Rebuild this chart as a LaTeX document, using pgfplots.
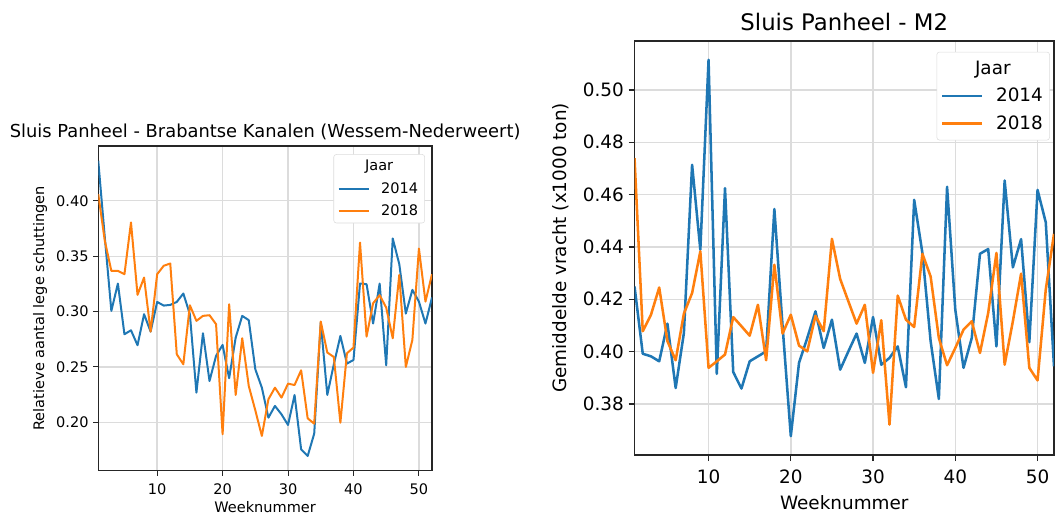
\documentclass[border=0pt]{standalone}
\usepackage{fontspec}
\setmainfont{DejaVu Sans}
\usepackage{pgfplots}
\pgfplotsset{compat=1.18}
\definecolor{tblue}{HTML}{1F77B4}
\definecolor{torange}{HTML}{FF7F0E}
\definecolor{gridc}{HTML}{DCDCDC}
\definecolor{spine}{HTML}{262626}

\pgfplotstableread{
w b o
1 0.4361 0.4060
2 0.3669 0.3639
3 0.3006 0.3367
4 0.3253 0.3367
5 0.2795 0.3337
6 0.2831 0.3804
7 0.2696 0.3151
8 0.2976 0.3307
9 0.2819 0.2819
10 0.3087 0.3337
11 0.3054 0.3413
12 0.3060 0.3434
13 0.3087 0.2614
14 0.3163 0.2524
15 0.2976 0.3057
16 0.2268 0.2916
17 0.2804 0.2961
18 0.2373 0.2967
19 0.2600 0.2886
20 0.2699 0.1892
21 0.2398 0.3066
22 0.2765 0.2247
23 0.2961 0.2759
24 0.2922 0.2328
25 0.2479 0.2108
26 0.2313 0.1877
27 0.2042 0.2208
28 0.2148 0.2313
29 0.2072 0.2223
30 0.1976 0.2349
31 0.2247 0.2337
32 0.1756 0.2470
33 0.1696 0.2036
34 0.1898 0.1988
35 0.2900 0.2910
36 0.2247 0.2630
37 0.2524 0.2590
38 0.2780 0.1997
39 0.2530 0.2623
40 0.2563 0.2675
41 0.3253 0.3623
42 0.3247 0.2774
43 0.2892 0.3075
44 0.3253 0.3148
45 0.2515 0.3036
46 0.3660 0.2759
47 0.3428 0.3331
48 0.2982 0.2500
49 0.3196 0.2744
50 0.3090 0.3569
51 0.2892 0.3090
52 0.3127 0.3337
}\lefttable

\pgfplotstableread{
w b o
1 0.4249 0.4739
2 0.3992 0.4078
3 0.3982 0.4141
4 0.3963 0.4245
5 0.4107 0.4040
6 0.3861 0.3967
7 0.4071 0.4145
8 0.4714 0.4224
9 0.4389 0.4383
10 0.5115 0.3938
11 0.3915 0.3963
12 0.4625 0.3989
13 0.3922 0.4132
14 0.3859 0.4097
15 0.3963 0.4061
16 0.3982 0.4179
17 0.4001 0.3967
18 0.4545 0.4332
19 0.4097 0.4069
20 0.3677 0.4141
21 0.3957 0.4023
22 0.4052 0.4001
23 0.4154 0.4137
24 0.4014 0.4078
25 0.4122 0.4431
26 0.3931 0.4278
27 0.4001 0.4192
28 0.4069 0.4107
29 0.3957 0.4179
30 0.4132 0.3919
31 0.3950 0.4120
32 0.3976 0.3721
33 0.4020 0.4214
34 0.3864 0.4122
35 0.4580 0.4094
36 0.4377 0.4374
37 0.4040 0.4287
38 0.3819 0.4052
39 0.4630 0.3948
40 0.4160 0.4014
41 0.3938 0.4084
42 0.4052 0.4116
43 0.4374 0.3995
44 0.4392 0.4148
45 0.4020 0.4377
46 0.4654 0.3950
47 0.4322 0.4116
48 0.4430 0.4298
49 0.4036 0.3938
50 0.4618 0.3890
51 0.4494 0.4237
52 0.3944 0.4450
}\righttable

\begin{document}
\begin{tikzpicture}
\path[use as bounding box] (0,0) rectangle (792.75pt,389.25pt);
% ---------------- left ----------------
\begin{axis}[
  at={(73.7pt,36.2pt)}, anchor=south west,
  scale only axis, width=250.3pt, height=243.5pt,
  xmin=1, xmax=52, ymin=0.1563, ymax=0.4494,
  xtick={10,20,30,40,50}, ytick={0.20,0.25,0.30,0.35,0.40},
  /pgf/number format/assume math mode=true,
  yticklabel style={/pgf/number format/fixed, /pgf/number format/fixed zerofill, /pgf/number format/precision=2},
  xticklabel style={yshift=-2.25pt},
  tick pos=left, tick align=outside, major tick length=3.75pt,
  tick style={spine, line width=0.75pt},
  axis line style={spine, line width=1pt},
  grid=major, grid style={gridc, line width=1pt},
  ticklabel style={font=\fontsize{10.9pt}{13pt}\selectfont},
  label style={font=\fontsize{10.9pt}{13pt}\selectfont},
  xlabel={Weeknummer},
  ylabel={Relatieve aantal lege schuttingen},
  xlabel style={at={(axis description cs:0.5,-0.113)}, anchor=center},
  ylabel style={at={(axis description cs:-0.174,0.5)}, anchor=center},
  title={Sluis Panheel - Brabantse Kanalen (Wessem-Nederweert)},
  title style={font=\fontsize{13.4pt}{16pt}\selectfont, at={(axis description cs:0.5,1)}, anchor=base, yshift=0.5pt},
  legend style={at={(0.979,0.975)}, anchor=north east, draw=gridc, rounded corners=2pt,
    fill=white, font=\fontsize{10.9pt}{13pt}\selectfont, row sep=3.4pt,
    /tikz/every odd column/.append style={column sep=6pt}},
  legend cell align=left,
  legend image code/.code={\draw[#1] (0pt,0pt) -- (23pt,0pt);},
]
\addlegendimage{empty legend}
\addlegendentry{\hspace*{-12pt}Jaar}
\addplot[tblue, line width=1.5pt, line join=round] table[x=w, y=b] {\lefttable};
\addlegendentry{2014}
\addplot[torange, line width=1.5pt, line join=round] table[x=w, y=o] {\lefttable};
\addlegendentry{2018}
\end{axis}
% ---------------- right ----------------
\begin{axis}[
  at={(475.9pt,48pt)}, anchor=south west,
  scale only axis, width=314.6pt, height=310.5pt,
  xmin=1, xmax=52, ymin=0.3605, ymax=0.5187,
  xtick={10,20,30,40,50}, ytick={0.38,0.40,0.42,0.44,0.46,0.48,0.50},
  /pgf/number format/assume math mode=true,
  yticklabel style={/pgf/number format/fixed, /pgf/number format/fixed zerofill, /pgf/number format/precision=2},
  xticklabel style={yshift=-3pt},
  tick pos=left, tick align=outside, major tick length=4.5pt,
  tick style={spine, line width=0.9pt},
  axis line style={spine, line width=1.1pt},
  grid=major, grid style={gridc, line width=1.1pt},
  ticklabel style={font=\fontsize{13.8pt}{16pt}\selectfont},
  label style={font=\fontsize{13.8pt}{16pt}\selectfont},
  xlabel={Weeknummer},
  ylabel={Gemiddelde vracht (x1000 ton)},
  xlabel style={at={(axis description cs:0.5,-0.1147)}, anchor=center},
  ylabel style={at={(axis description cs:-0.175,0.5)}, anchor=center},
  title={Sluis Panheel - M2},
  title style={font=\fontsize{17.1pt}{20pt}\selectfont, at={(axis description cs:0.5,1)}, anchor=base, yshift=1.5pt},
  legend style={at={(0.990,0.974)}, anchor=north east, draw=gridc, rounded corners=2pt,
    fill=white, font=\fontsize{13.8pt}{16pt}\selectfont, row sep=5pt, inner ysep=4.5pt,
    /tikz/every odd column/.append style={column sep=7.5pt}},
  legend cell align=left,
  legend image code/.code={\draw[#1] (0pt,0pt) -- (30pt,0pt);},
]
\addlegendimage{empty legend}
\addlegendentry{\hspace*{-15.75pt}Jaar}
\addplot[tblue, line width=1.9pt, line join=round] table[x=w, y=b] {\righttable};
\addlegendentry{2014}
\addplot[torange, line width=1.9pt, line join=round] table[x=w, y=o] {\righttable};
\addlegendentry{2018}
\end{axis}
\end{tikzpicture}
\end{document}
